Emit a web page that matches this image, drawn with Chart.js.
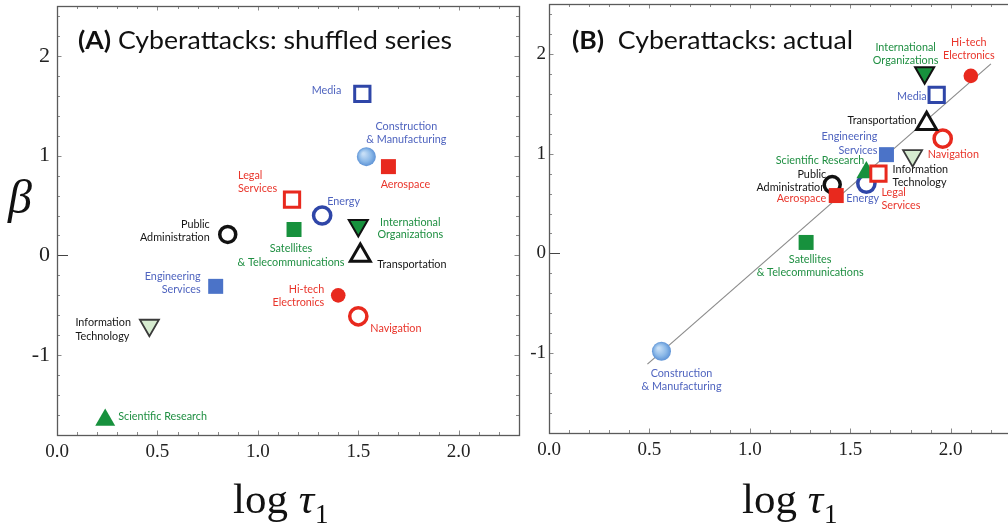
<!DOCTYPE html>
<html><head><meta charset="utf-8">
<script src="https://cdn.jsdelivr.net/npm/chart.js@4.4.1/dist/chart.umd.min.js"></script>
<style>
html,body{margin:0;padding:0;background:#fff;overflow:hidden;width:1008px;height:528px;}
#wrap{position:relative;width:1008px;height:528px;overflow:hidden;background:#fff;}
.pan{position:absolute;top:0;height:528px;}
#pa{left:0;width:530px;}
#pb{left:520px;width:492px;}
canvas{display:block;}
</style></head><body>
<div id="wrap">
<div class="pan" id="pa"><canvas id="ca" width="530" height="528"></canvas></div>
<div class="pan" id="pb"><canvas id="cb" width="492" height="528"></canvas></div>
</div>
<script>
// ---------------- DATA ----------------
const sectors = [
  'Construction & Manufacturing','Satellites & Telecommunications','Public Administration',
  'Aerospace','Energy','Scientific Research','Legal Services','Engineering Services',
  'Information Technology','Navigation','Transportation','Media',
  'International Organizations','Hi-tech Electronics'
];
// Panel A: shuffled series (log tau1, beta)
const shuffledX = [1.54, 1.18, 0.85, 1.65, 1.32, 0.24, 1.17, 0.79, 0.46, 1.50, 1.51, 1.52, 1.50, 1.40];
const shuffledY = [0.99, 0.26, 0.21, 0.89, 0.40, -1.65, 0.56, -0.31, -0.70, -0.61, 0.00, 1.62, 0.30, -0.40];
// Panel B: actual series
const actualX = [0.56, 1.28, 1.41, 1.43, 1.58, 1.58, 1.64, 1.68, 1.81, 1.96, 1.88, 1.93, 1.87, 2.10];
const actualY = [-0.98, 0.11, 0.69, 0.58, 0.70, 0.81, 0.80, 0.99, 0.98, 1.15, 1.30, 1.59, 1.81, 1.78];
// Fitted line in panel B (end points)
const fitX = [0.49, 2.20];
const fitY = [-1.11, 1.90];
// Axis ranges / tick labels
const xRange = [0, 2.3];
const yRange = [-1.8, 2.5];
const xTickLabels = ['0.0', '0.5', '1.0', '1.5', '2.0'];
const yTickLabels = ['-1', '0', '1', '2'];

// ---------------- LABEL TEXT ----------------
const labelLines = {
  'Construction & Manufacturing': ['Construction', '& Manufacturing'],
  'Satellites & Telecommunications': ['Satellites', '& Telecommunications'],
  'Public Administration': ['Public', 'Administration'],
  'Aerospace': ['Aerospace'],
  'Energy': ['Energy'],
  'Scientific Research': ['Scientific Research'],
  'Legal Services': ['Legal', 'Services'],
  'Engineering Services': ['Engineering', 'Services'],
  'Information Technology': ['Information', 'Technology'],
  'Navigation': ['Navigation'],
  'Transportation': ['Transportation'],
  'Media': ['Media'],
  'International Organizations': ['International', 'Organizations'],
  'Hi-tech Electronics': ['Hi-tech', 'Electronics']
};

// ---------------- STYLES ----------------
const C = {
  dblue: '#2f46a8', mblue: '#4b73c8', red: '#e8291e', green: '#17913d',
  black: '#111111', itFill: '#d6ebd0', itStroke: '#3a3a3a'
};
const labelColor = {
  'Construction & Manufacturing': '#4f64bf', 'Satellites & Telecommunications': '#1f8f42',
  'Public Administration': '#151515', 'Aerospace': '#e9352b', 'Energy': '#4f64bf',
  'Scientific Research': '#1f8f42', 'Legal Services': '#e9352b', 'Engineering Services': '#4f64bf',
  'Information Technology': '#151515', 'Navigation': '#e9352b', 'Transportation': '#151515',
  'Media': '#4f64bf', 'International Organizations': '#1f8f42', 'Hi-tech Electronics': '#e9352b'
};
const markerStyle = {
  'Construction & Manufacturing': {shape:'circle', r:9.5, fill:'grad', stroke:'#6a9ddc', bw:0, rot:0},
  'Satellites & Telecommunications': {shape:'rect', r:10.6, fill:C.green, stroke:C.green, bw:0, rot:0},
  'Public Administration': {shape:'circle', r:8, fill:'#ffffff', stroke:C.black, bw:3.5, rot:0},
  'Aerospace': {shape:'rect', r:10.6, fill:C.red, stroke:C.red, bw:0, rot:0},
  'Energy': {shape:'circle', r:8.6, fill:'#ffffff', stroke:C.dblue, bw:3.5, rot:0},
  'Scientific Research': {shape:'triangle', r:11.5, fill:C.green, stroke:C.green, bw:0, rot:0},
  'Legal Services': {shape:'rect', r:10.8, fill:'#ffffff', stroke:C.red, bw:3, rot:0},
  'Engineering Services': {shape:'rect', r:10.6, fill:C.mblue, stroke:C.mblue, bw:0, rot:0},
  'Information Technology': {shape:'triangle', r:11, fill:C.itFill, stroke:C.itStroke, bw:1.8, rot:180},
  'Navigation': {shape:'circle', r:8.6, fill:'#ffffff', stroke:C.red, bw:3.5, rot:0},
  'Transportation': {shape:'triangle', r:11.5, fill:'#ffffff', stroke:C.black, bw:3, rot:0},
  'Media': {shape:'rect', r:10.8, fill:'#ffffff', stroke:C.dblue, bw:3, rot:0},
  'International Organizations': {shape:'triangle', r:11, fill:C.green, stroke:'#111', bw:2, rot:180},
  'Hi-tech Electronics': {shape:'circle', r:7.3, fill:C.red, stroke:C.red, bw:0, rot:0}
};
// label placement relative to marker: [align, dx, [dy per line]]
const layoutA = {
  'Construction & Manufacturing': ['center', 40, [-30, -17]],
  'Satellites & Telecommunications': ['center', -3, [19, 33]],
  'Public Administration': ['right', -18, [-10, 3]],
  'Aerospace': ['center', 17, [18]],
  'Energy': ['left', 5, [-14]],
  'Scientific Research': ['left', 13, [-4]],
  'Legal Services': ['left', -54, [-24.5, -11.5]],
  'Engineering Services': ['right', -15, [-10, 3]],
  'Information Technology': ['left', -74, [-3, 11]],
  'Navigation': ['left', 12, [12]],
  'Transportation': ['left', 17, [9]],
  'Media': ['right', -21, [-3]],
  'International Organizations': ['center', 52, [-3, 9]],
  'Hi-tech Electronics': ['right', -14, [-5.5, 7.5]]
};
const layoutB = {
  'Construction & Manufacturing': ['center', 20, [22, 35]],
  'Satellites & Telecommunications': ['center', 4, [17.5, 30.5]],
  'Public Administration': ['right', -6, [-10, 3]],
  'Aerospace': ['right', -10, [3]],
  'Energy': ['left', -20, [15]],
  'Scientific Research': ['right', -2, [-12]],
  'Legal Services': ['left', 3, [19, 31.5]],
  'Engineering Services': ['right', -9, [-18, -4.5]],
  'Information Technology': ['left', -20, [14, 26.7]],
  'Navigation': ['left', -15, [15.5]],
  'Transportation': ['right', -10, [-3]],
  'Media': ['right', -10, [2]],
  'International Organizations': ['center', -19, [-25, -12]],
  'Hi-tech Electronics': ['center', -2, [-33, -20]]
};

// ---------------- PLUGINS ----------------
const frameTicks = {
  id: 'frameTicks',
  beforeDatasetsDraw(chart, args, o) {
    const {ctx, chartArea: a, scales: {x, y}} = chart;
    ctx.save();
    ctx.strokeStyle = '#8a8a8a';
    ctx.lineWidth = 1;
    ctx.beginPath();
    for (let i = 0; i <= 23; i++) {
      const px = Math.round(x.getPixelForValue(i / 10)) + 0.5;
      const len = (i % 5 === 0) ? 4.5 : 3;
      ctx.moveTo(px, a.bottom); ctx.lineTo(px, a.bottom - len);
      ctx.moveTo(px, a.top); ctx.lineTo(px, a.top + len);
    }
    for (let i = -9; i <= 12; i++) {
      const v = i * 0.2;
      const py = Math.round(y.getPixelForValue(v)) + 0.5;
      const len = (i % 5 === 0) ? 4.5 : 3;
      ctx.moveTo(a.left, py); ctx.lineTo(a.left + len, py);
      if (o.rightTicks) { ctx.moveTo(a.right, py); ctx.lineTo(a.right - len, py); }
    }
    ctx.stroke();
    // zero tick longer and darker
    ctx.strokeStyle = '#444';
    ctx.beginPath();
    const p0 = Math.round(y.getPixelForValue(0)) + 0.5;
    ctx.moveTo(a.left, p0); ctx.lineTo(a.left + 11, p0);
    ctx.stroke();
    // frame
    ctx.strokeStyle = '#5a5a5a';
    ctx.lineWidth = 1.3;
    ctx.strokeRect(a.left + 0.5, a.top + 0.5, a.right - a.left, a.bottom - a.top);
    ctx.restore();
  }
};

const sectorLabels = {
  id: 'sectorLabels',
  beforeDatasetsDraw(chart, args, o) {
    const meta = chart.getDatasetMeta(0);
    const ctx = chart.ctx;
    ctx.save();
    ctx.font = o.font;
    ctx.textBaseline = 'middle';
    sectors.forEach((s, i) => {
      const el = meta.data[i];
      const L = o.layout[s];
      ctx.fillStyle = labelColor[s];
      ctx.textAlign = L[0];
      labelLines[s].forEach((t, k) => ctx.fillText(t, el.x + L[1], el.y + L[2][k]));
    });
    ctx.restore();
  }
};

const panelText = {
  id: 'panelText',
  afterDraw(chart, args, o) {
    const {ctx, chartArea: a} = chart;
    ctx.save();
    ctx.fillStyle = '#111';
    ctx.textBaseline = 'alphabetic';
    ctx.textAlign = 'left';
    // panel title
    const fb = 'bold ' + o.titleSize + 'px Lato', fr = o.titleSize + 'px Lato';
    ctx.font = fb; const w1 = ctx.measureText(o.title[0]).width;
    ctx.font = fr; const w2 = ctx.measureText(o.title[1]).width;
    const s = o.titleWidth / (w1 + w2);
    ctx.save();
    ctx.translate(a.left + o.titleDx, o.titleY);
    ctx.scale(s, 1);
    ctx.font = fb; ctx.fillText(o.title[0], 0, 0);
    ctx.font = fr; ctx.fillText(o.title[1], w1, 0);
    ctx.restore();
    // x-axis title: log τ1
    let xx = a.left + o.xtDx;
    const yy = o.xtY;
    ctx.font = '43px "Liberation Serif"';
    ctx.fillText('log ', xx, yy); xx += ctx.measureText('log ').width;
    ctx.font = 'italic 43px "Liberation Serif"';
    ctx.fillText('\u03C4', xx, yy); xx += ctx.measureText('\u03C4').width;
    ctx.font = '27px "Liberation Serif"';
    ctx.fillText('1', xx + 1, yy + 10);
    // y-axis title: β
    if (o.beta) {
      ctx.font = 'italic 48px "Liberation Serif"';
      ctx.textAlign = 'center';
      ctx.fillText('\u03B2', o.beta[0], o.beta[1]);
    }
    ctx.restore();
  }
};

// ---------------- CHART BUILDER ----------------
function buildChart(canvasId, xs, ys, cfg) {
  const pts = sectors.map((s, i) => ({x: xs[i], y: ys[i]}));
  const st = sectors.map(s => markerStyle[s]);
  const datasets = [{
    type: 'scatter',
    data: pts,
    order: 1,
    pointStyle: st.map(m => m.shape),
    pointRadius: st.map(m => m.r),
    pointRotation: st.map(m => m.rot),
    pointBorderWidth: st.map(m => m.bw),
    pointBorderColor: st.map(m => m.stroke),
    pointBackgroundColor: function(c) {
      const flat = '#7fb0e4';
      if (c.dataIndex === undefined) return flat;
      const m = markerStyle[sectors[c.dataIndex]];
      if (m.fill !== 'grad') return m.fill;
      const ch = c.chart;
      const p = pts[c.dataIndex];
      const px = ch.scales && ch.scales.x ? ch.scales.x.getPixelForValue(p.x) : NaN;
      const py = ch.scales && ch.scales.y ? ch.scales.y.getPixelForValue(p.y) : NaN;
      if (!isFinite(px) || !isFinite(py)) return flat;
      const g = ch.ctx.createRadialGradient(px - 3, py - 3, 1, px, py, m.r);
      g.addColorStop(0, '#c6def6');
      g.addColorStop(0.6, '#8cb9e8');
      g.addColorStop(1, '#5e93d6');
      return g;
    }
  }];
  if (cfg.fit) {
    datasets.push({
      type: 'line',
      data: fitX.map((v, i) => ({x: v, y: fitY[i]})),
      order: 2,
      borderColor: '#8c8c8c',
      borderWidth: 1.2,
      pointRadius: 0,
      fill: false
    });
  }
  return new Chart(document.getElementById(canvasId), {
    type: 'scatter',
    data: {datasets},
    options: {
      responsive: false,
      animation: false,
      events: [],
      layout: {autoPadding: false, padding: {top: cfg.padTop, right: cfg.padRight, left: 0, bottom: 0}},
      plugins: {
        legend: {display: false},
        tooltip: {enabled: false},
        frameTicks: {rightTicks: cfg.rightTicks},
        sectorLabels: {layout: cfg.layout, font: '10.8px Lato'},
        panelText: cfg.text
      },
      scales: {
        x: {
          type: 'linear', min: xRange[0], max: xRange[1],
          grid: {display: false, drawTicks: false},
          border: {display: false},
          afterFit: sc => { sc.height = cfg.xHeight; sc.paddingLeft = 0; sc.paddingRight = 0; },
          ticks: {
            stepSize: 0.5, includeBounds: false, padding: 6,
            color: '#222', font: {family: '"Liberation Serif"', size: 19},
            callback: (v) => {
              const k = Math.round(v * 2);
              return (Math.abs(v * 2 - k) < 1e-6 && k >= 0 && k < xTickLabels.length) ? xTickLabels[k] : null;
            }
          }
        },
        y: {
          type: 'linear', min: yRange[0], max: yRange[1],
          grid: {display: false, drawTicks: false},
          border: {display: false},
          afterFit: sc => { sc.width = cfg.yWidth; sc.paddingTop = 0; sc.paddingBottom = 0; },
          ticks: {
            stepSize: 1, includeBounds: false, padding: cfg.yPad,
            color: '#222', font: {family: '"Liberation Serif"', size: cfg.ySize},
            callback: (v) => {
              const k = Math.round(v) + 1;
              return (Math.abs(v - Math.round(v)) < 1e-6 && k >= 0 && k < yTickLabels.length) ? yTickLabels[k] : null;
            }
          }
        }
      }
    },
    plugins: [frameTicks, sectorLabels, panelText]
  });
}

buildChart('ca', shuffledX, shuffledY, {
  layout: layoutA, fit: false, padTop: 6, padRight: 11, xHeight: 93, yWidth: 57, yPad: 7, ySize: 22,
  rightTicks: true,
  text: {title: ['(A)', ' Cyberattacks: shuffled series'], titleSize: 25, titleWidth: 374,
         titleDx: 21, titleY: 49, xtDx: 176, xtY: 513, beta: [20, 213]}
});
buildChart('cb', actualX, actualY, {
  layout: layoutB, fit: true, padTop: 4, padRight: 1, xHeight: 95, yWidth: 29, yPad: 3, ySize: 19,
  rightTicks: false,
  text: {title: ['(B)', '  Cyberattacks: actual'], titleSize: 25, titleWidth: 281,
         titleDx: 23, titleY: 49, xtDx: 193, xtY: 513, beta: null}
});
</script>
</body></html>
